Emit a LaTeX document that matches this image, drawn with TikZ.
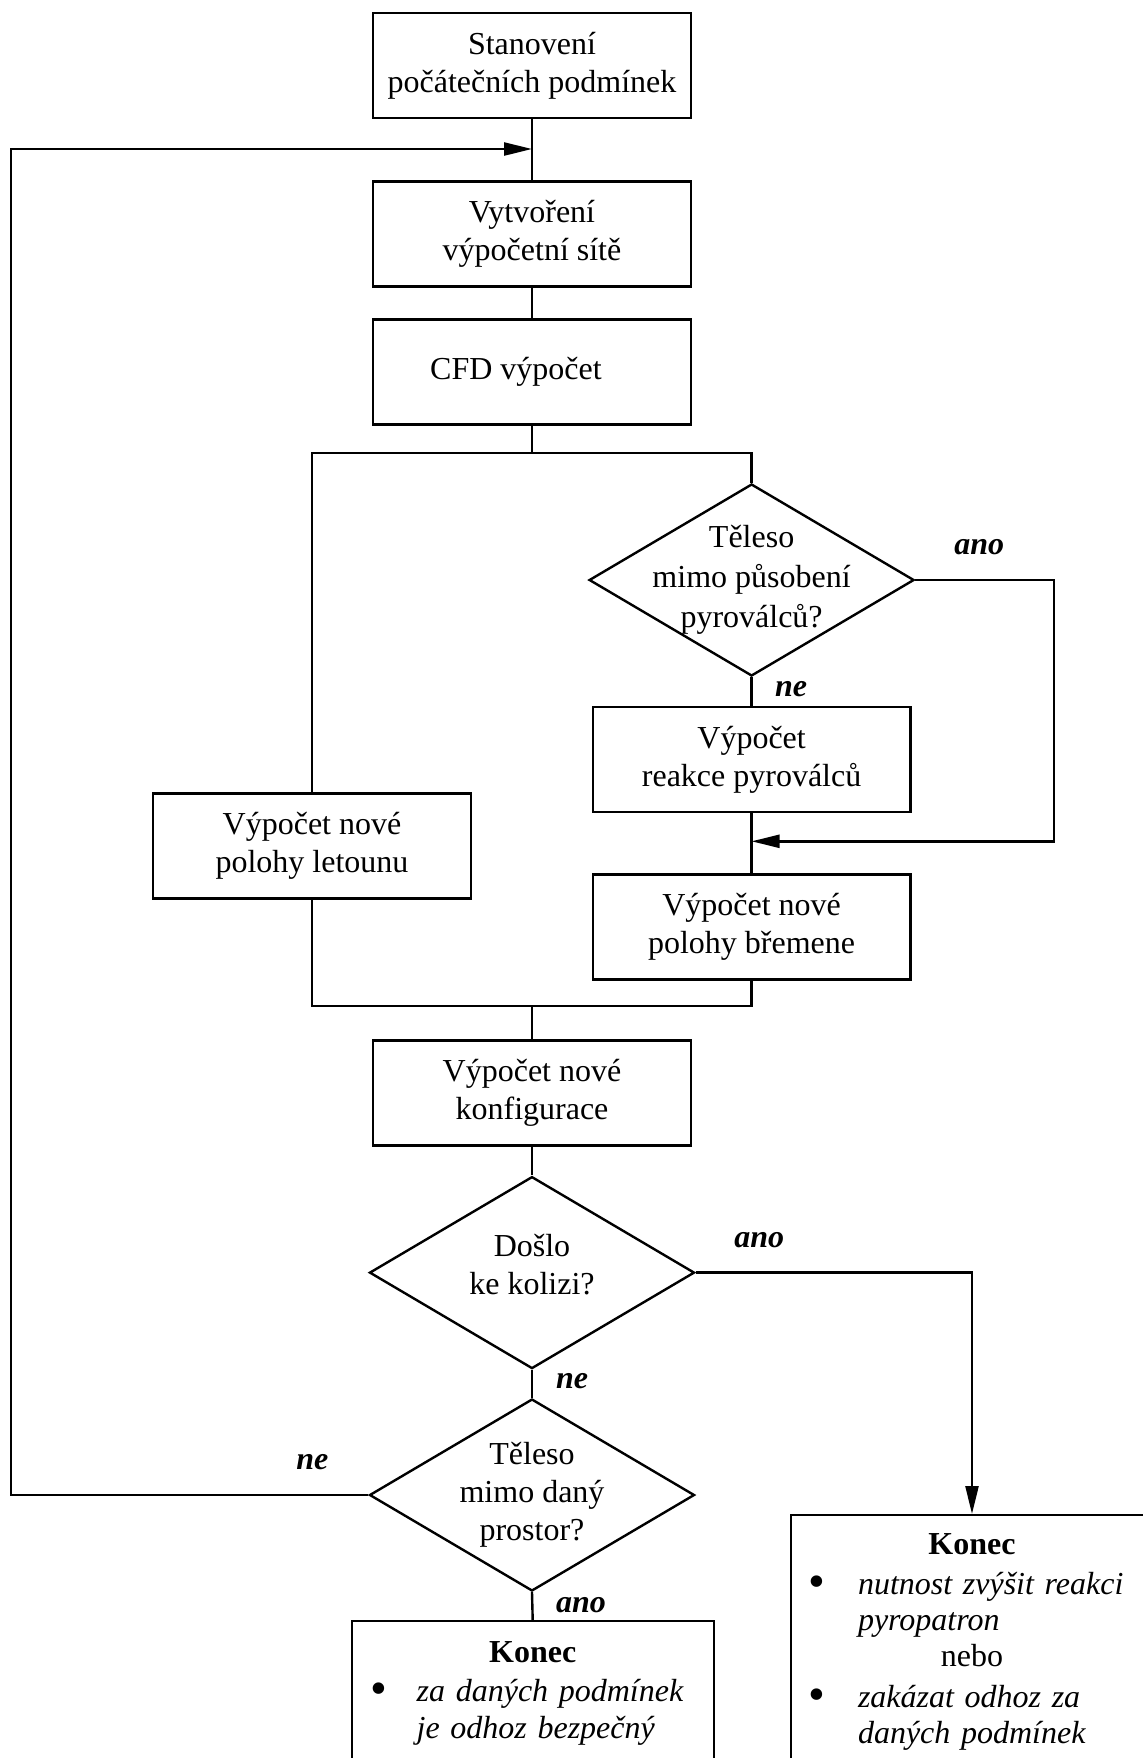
\documentclass[tikz,border=0pt]{standalone}
\usepackage{fontspec}
\setmainfont{Liberation Serif}
\usepackage{tikz}
\usetikzlibrary{shapes.geometric,positioning,arrows.meta}
\setlength{\parindent}{0pt}
\newcommand{\bigdot}{\raisebox{-1.5pt}{\fontsize{24}{18}\selectfont\textbullet}}

\tikzset{
  block/.style={draw, rectangle, line width=1.2pt, minimum width=158.75pt, minimum height=52.5pt, align=center},
  decision/.style={draw, diamond, line width=1.2pt, minimum width=162.5pt, minimum height=96pt, inner sep=0pt},
  dtext/.style={align=center},
  answer/.style={font=\fontsize{16}{19}\selectfont\bfseries\itshape},
  line/.style={line width=1.2pt},
  arrow/.style={line width=1.2pt, -{Triangle[length=14pt,width=6.5pt]}},
  endbox/.style={draw, rectangle, line width=1.2pt, minimum width=181pt, minimum height=160pt, anchor=north},
  endtext/.style={text width=181pt, inner sep=0pt, font=\fontsize{16}{18.5}\selectfont}
}

\begin{document}
\begin{tikzpicture}[x=0.5pt, y=-0.5pt,
    every node/.style={font=\fontsize{16}{19}\selectfont}]
  \useasboundingbox (0,0) rectangle (1143,1758);
  \clip (0,0) rectangle (1143,1758);

  % main column
  \node[block] (start) at (532,65.5) {Stanovení\\počátečních podmínek};
  \node[block] (mesh) at (532,234) {Vytvoření\\výpočetní sítě};
  \node[block] (cfd) at (532,372) {CFD výpočet\hspace*{16pt}};

  % two branches
  \node[block] (letoun) at (312,846) {Výpočet nové\\polohy letounu};
  \node[decision] (d1) at (751.6,580) {};
  \node[dtext, font=\fontsize{16}{20}\selectfont] (d1text) at (d1) {Těleso\\mimo působení\\pyroválců?};
  \node[block] (reakce) at (751.6,759.4) {Výpočet\\reakce pyroválců};
  \node[block] (bremeno) at (751.6,927) {Výpočet nové\\polohy břemene};

  \node[block] (konfig) at (532,1093) {Výpočet nové\\konfigurace};
  \node[decision] (d2) at (532,1272.6) {};
  \node[dtext, yshift=4pt] (d2text) at (d2) {Došlo\\ke kolizi?};
  \node[decision] (d3) at (532,1495) {};
  \node[dtext] (d3text) at (d3) {Těleso\\mimo daný\\prostor?};

  % ends
  \node[endbox] (endA) at (532.7,1620) {};
  \node[endtext, below=10.5pt of endA.north] (endAtext) {%
    {\centering\textbf{Konec}\par}\vspace{1.25pt}
    \raggedright
    \makebox[27pt]{\bigdot}\hspace{5.5pt}\textit{za daných podmínek}\\
    \hspace*{32.5pt}\textit{je odhoz bezpečný}};
  \node[endbox] (endB) at (972,1514) {};
  \node[endtext, font=\fontsize{16}{18}\selectfont, below=9.5pt of endB.north] (endBtext) {%
    {\centering\textbf{Konec}\par}\vspace{2.25pt}
    \raggedright
    \makebox[26pt]{\bigdot}\hspace{7.5pt}\textit{nutnost zvýšit reakci}\\
    \hspace*{33.5pt}\textit{pyropatron}\par
    {\centering nebo\par}\vspace{2.5pt}
    \makebox[26pt]{\bigdot}\hspace{7.5pt}\textit{zakázat odhoz za}\\
    \hspace*{33.5pt}\textit{daných podmínek}};

  % answers
  \node[answer] (ano1) at ([xshift=32pt,yshift=16.5pt]d1.east) {ano};
  \node[answer] (ne1) at ([xshift=19.7pt,yshift=-5.8pt]d1.south) {ne};
  \node[answer] (ano2) at ([xshift=31.75pt,yshift=16.3pt]d2.east) {ano};
  \node[answer] (ne2) at ([xshift=20pt,yshift=-5.75pt]d2.south) {ne};
  \node[answer] (ne3) at ([xshift=-28pt,yshift=16.5pt]d3.west) {ne};
  \node[answer] (ano3) at ([xshift=24.5pt,yshift=-6.25pt]d3.south) {ano};

  % junctions
  \coordinate (join) at (532,149);
  \coordinate (split) at (532,453);
  \coordinate (merge) at (532,1006);
  \coordinate (anoR) at (1054,841.3);
  \coordinate (mergeR) at (751.6,841.3);
  \coordinate (loopL) at (11,1495);

  % connectors
  \draw[line] (start) -- (mesh);
  \draw[line] (mesh) -- (cfd);
  \draw[line] (cfd) -- (split);
  \draw[line] (letoun.north) |- (split) -| (d1.north);
  \draw[line] (d1.south) -- (reakce.north);
  \draw[line] (reakce.south) -- (bremeno.north);
  \draw[arrow] (d1.east) -| (anoR) -- (mergeR);
  \draw[line] (letoun.south) |- (merge) -| (bremeno.south);
  \draw[line] (merge) -- (konfig.north);
  \draw[line] (konfig.south) -- (d2.north);
  \draw[line] (d2.south) -- (d3.north);
  \draw[arrow] (d2.east) -| (endB.north);
  \draw[line] (d3.south) -- (endA.north);
  \draw[arrow] (d3.west) -- (loopL) |- (join);
\end{tikzpicture}
\end{document}
